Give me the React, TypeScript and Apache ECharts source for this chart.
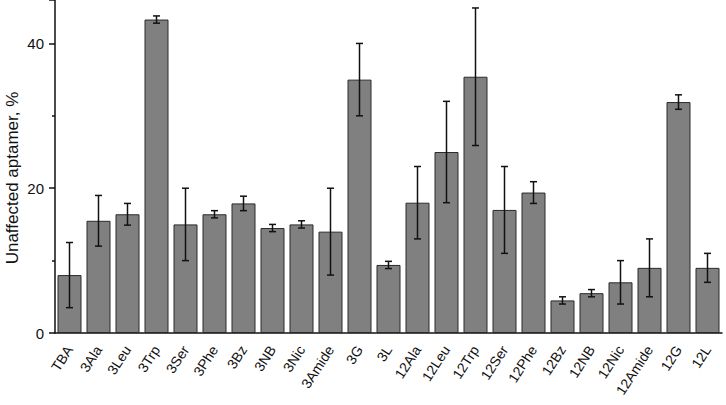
import React, { useEffect, useRef } from "react";
import * as echarts from "echarts";

const categories = ["TBA", "3Ala", "3Leu", "3Trp", "3Ser", "3Phe", "3Bz", "3NB", "3Nic", "3Amide", "3G", "3L", "12Ala", "12Leu", "12Trp", "12Ser", "12Phe", "12Bz", "12NB", "12Nic", "12Amide", "12G", "12L"];
const values = [8, 15.5, 16.4, 43.3, 15, 16.4, 17.9, 14.5, 15, 14, 35, 9.4, 18, 25, 35.4, 17, 19.4, 4.5, 5.5, 7, 9, 31.9, 9];
const errors = [4.5, 3.5, 1.5, 0.5, 5, 0.5, 1, 0.5, 0.5, 6, 5, 0.5, 5, 7, 9.5, 6, 1.5, 0.5, 0.5, 3, 4, 1, 2];
const yTicks = [0, 20, 40];
const yTitle = "Unaffected aptamer, %";

export default function App() {
  const ref = useRef<HTMLDivElement>(null);
  useEffect(() => {
    const chart = echarts.init(ref.current!, null, { renderer: "svg" });
    const errData = values.map((v, i) => [i, v - errors[i], v + errors[i]]);
    chart.setOption({
      animation: false,
      backgroundColor: "#ffffff",
      grid: { left: 55, right: 4, top: 0, bottom: 72 },
      graphic: [
        {
          type: "text",
          x: 12,
          y: 178,
          rotation: Math.PI / 2,
          style: {
            text: yTitle,
            fontSize: 17,
            fill: "#111",
            fontFamily: "Liberation Sans",
            align: "center",
            verticalAlign: "middle",
          },
        },
      ],
      xAxis: {
        type: "category",
        data: categories,
        axisLine: { lineStyle: { color: "#111", width: 1.5 } },
        axisTick: { alignWithLabel: true, length: 6, lineStyle: { color: "#111", width: 1.5 } },
        axisLabel: { rotate: 57, fontSize: 14, color: "#111", fontFamily: "Liberation Sans", margin: 14, interval: 0 },
      },
      yAxis: {
        type: "value",
        min: 0,
        max: 46,
        interval: 20,
        axisLine: { show: true, lineStyle: { color: "#111", width: 1.5 } },
        axisTick: { show: true, length: 6, lineStyle: { color: "#111", width: 1.5 } },
        minorTick: { show: true, splitNumber: 2, length: 3, lineStyle: { color: "#111", width: 1.5 } },
        splitLine: { show: false },
        axisLabel: {
          fontSize: 15,
          color: "#111",
          fontFamily: "Liberation Sans",
          margin: 11,
          formatter: (v: number) => (yTicks.includes(v) ? String(v) : ""),
        },
      },
      series: [
        {
          type: "bar",
          data: values,
          barWidth: 24,
          itemStyle: { color: "#808080", borderColor: "#2a2a2a", borderWidth: 1 },
        },
        {
          type: "custom",
          data: errData,
          z: 10,
          renderItem: (params: any, api: any) => {
            const x = api.value(0);
            const lo = api.coord([x, api.value(1)]);
            const hi = api.coord([x, api.value(2)]);
            const w = 3.5;
            const style = { stroke: "#111", lineWidth: 1.5 };
            return {
              type: "group",
              children: [
                { type: "line", shape: { x1: lo[0], y1: lo[1], x2: hi[0], y2: hi[1] }, style },
                { type: "line", shape: { x1: hi[0] - w, y1: hi[1], x2: hi[0] + w, y2: hi[1] }, style },
                { type: "line", shape: { x1: lo[0] - w, y1: lo[1], x2: lo[0] + w, y2: lo[1] }, style },
              ],
            };
          },
        },
      ],
    });
    return () => chart.dispose();
  }, []);
  return <div ref={ref} style={{ position: "fixed", left: 0, top: 0, width: 726, height: 405 }} />;
}
